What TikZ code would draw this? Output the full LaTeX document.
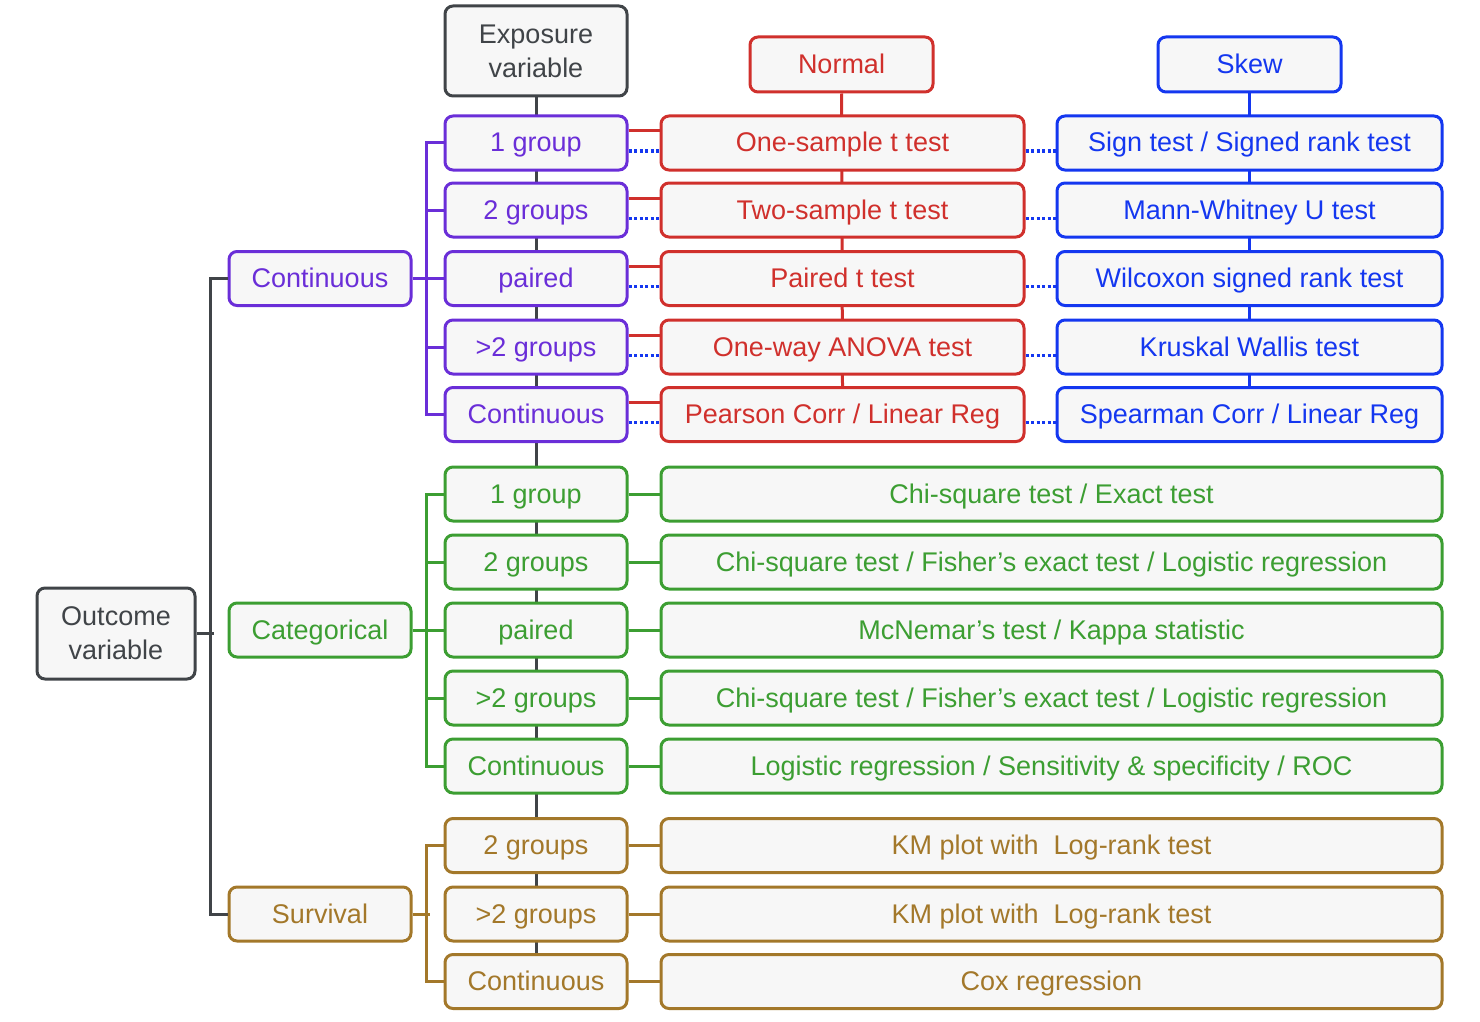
\documentclass[tikz,border=0pt]{standalone}
\usepackage{fontspec}
\setmainfont{Liberation Sans}
\usetikzlibrary{backgrounds,calc}
\definecolor{cgray}{HTML}{404448}
\definecolor{cpurple}{HTML}{6A2ED8}
\definecolor{cred}{HTML}{D0302C}
\definecolor{cblue}{HTML}{1437F0}
\definecolor{cgreen}{HTML}{3C9E32}
\definecolor{cbrown}{HTML}{A3782A}
\definecolor{cfill}{HTML}{F7F7F7}
\tikzset{
  box/.style={draw, line width=3pt, rounded corners=8pt, fill=cfill, inner sep=0pt, align=center, font=\fontsize{27}{34}\selectfont},
  single/.style={text height=21pt, text depth=3pt},
  lvone/.style={box, single, minimum width=182pt, minimum height=54pt},
  expo/.style={box, single, minimum width=182pt, minimum height=54pt},
  redb/.style={box, single, draw=cred, text=cred, minimum width=363pt, minimum height=54pt},
  blueb/.style={box, single, draw=cblue, text=cblue, minimum width=385pt, minimum height=54pt},
  wide/.style={box, single, minimum width=781pt, minimum height=54pt},
  conn/.style={line width=3pt},
  dotc/.style={line width=3pt, cblue, dash pattern=on 3pt off 2.5pt}
}
\begin{document}
\begin{tikzpicture}[x=1pt,y=-1pt]
\useasboundingbox (0,0) rectangle (1480,1022);
% headers
\node[box, draw=cgray, text=cgray, minimum width=182pt, minimum height=90pt] (exp) at (536,51) {Exposure\\variable};
\node[box, single, draw=cred, text=cred, minimum width=183pt, minimum height=55pt] (normal) at (841.5,64.5) {Normal};
\node[box, single, draw=cblue, text=cblue, minimum width=183pt, minimum height=55pt] (skew) at (1249.5,64.5) {Skew};
\node[box, draw=cgray, text=cgray, minimum width=158pt, minimum height=91pt] (outcome) at (116,633.5) {Outcome\\variable};
% level one
\node[lvone, draw=cpurple, text=cpurple] (cont) at (320,278.5) {Continuous};
\node[lvone, draw=cgreen, text=cgreen] (cat) at (320,630) {Categorical};
\node[lvone, draw=cbrown, text=cbrown] (surv) at (320,914) {Survival};
% purple rows
\node[expo, draw=cpurple, text=cpurple] (p1) at (536,143) {1 group};
\node[expo, draw=cpurple, text=cpurple] (p2) at (536,210) {2 groups};
\node[expo, draw=cpurple, text=cpurple] (p3) at (536,278.5) {paired};
\node[expo, draw=cpurple, text=cpurple] (p4) at (536,347) {>2 groups};
\node[expo, draw=cpurple, text=cpurple] (p5) at (536,414.5) {Continuous};
\node[redb] (r1) at (842.5,143) {One-sample t test};
\node[redb] (r2) at (842.5,210) {Two-sample t test};
\node[redb] (r3) at (842.5,278.5) {Paired t test};
\node[redb] (r4) at (842.5,347) {One-way ANOVA test};
\node[redb] (r5) at (842.5,414.5) {Pearson Corr / Linear Reg};
\node[blueb] (b1) at (1249.5,143) {Sign test / Signed rank test};
\node[blueb] (b2) at (1249.5,210) {Mann-Whitney U test};
\node[blueb] (b3) at (1249.5,278.5) {Wilcoxon signed rank test};
\node[blueb] (b4) at (1249.5,347) {Kruskal Wallis test};
\node[blueb] (b5) at (1249.5,414.5) {Spearman Corr / Linear Reg};
% green rows
\node[expo, draw=cgreen, text=cgreen] (g1) at (536,494) {1 group};
\node[expo, draw=cgreen, text=cgreen] (g2) at (536,562) {2 groups};
\node[expo, draw=cgreen, text=cgreen] (g3) at (536,630) {paired};
\node[expo, draw=cgreen, text=cgreen] (g4) at (536,698) {>2 groups};
\node[expo, draw=cgreen, text=cgreen] (g5) at (536,766) {Continuous};
\node[wide, draw=cgreen, text=cgreen] (w1) at (1051.5,494) {Chi-square test / Exact test};
\node[wide, draw=cgreen, text=cgreen] (w2) at (1051.5,562) {Chi-square test / Fisher’s exact test / Logistic regression};
\node[wide, draw=cgreen, text=cgreen] (w3) at (1051.5,630) {McNemar’s test / Kappa statistic};
\node[wide, draw=cgreen, text=cgreen] (w4) at (1051.5,698) {Chi-square test / Fisher’s exact test / Logistic regression};
\node[wide, draw=cgreen, text=cgreen] (w5) at (1051.5,766) {Logistic regression / Sensitivity \& specificity / ROC};
% brown rows
\node[expo, draw=cbrown, text=cbrown] (s1) at (536,845.5) {2 groups};
\node[expo, draw=cbrown, text=cbrown] (s2) at (536,914) {>2 groups};
\node[expo, draw=cbrown, text=cbrown] (s3) at (536,981.5) {Continuous};
\node[wide, draw=cbrown, text=cbrown] (v1) at (1051.5,845.5) {KM plot with\ \ Log-rank test};
\node[wide, draw=cbrown, text=cbrown] (v2) at (1051.5,914) {KM plot with\ \ Log-rank test};
\node[wide, draw=cbrown, text=cbrown] (v3) at (1051.5,981.5) {Cox regression};
% connectors behind
\begin{scope}[on background layer]
\draw[conn, cgray] (exp.south) -- (s3.north);
\draw[conn, cred] (normal.south) -- (r5.north);
\draw[conn, cblue] (skew.south) -- (b5.north);
\end{scope}
% trunk
\draw[conn, cgray] (outcome.east) -- ++(17,0);
\draw[conn, cgray] (cont.west) -- ++(-17,0) |- (surv.west);
% purple bracket
\draw[conn, cpurple] (cont.east) -- ++(17,0);
\draw[conn, cpurple] (p1.west) -- ++(-17,0) |- (p5.west);
\foreach \i in {2,3,4} \draw[conn, cpurple] (p\i.west) -- ++(-17,0);
\foreach \i in {1,...,5} {
  \draw[conn, cred] ($(p\i.east)+(0,-12)$) -- ($(r\i.west)+(0,-12)$);
  \draw[dotc] ($(p\i.east)+(0,8)$) -- ($(r\i.west)+(0,8)$);
  \draw[dotc] ($(r\i.east)+(0,8)$) -- ($(b\i.west)+(0,8)$);
}
% green bracket
\draw[conn, cgreen] (cat.east) -- ++(17,0);
\draw[conn, cgreen] (g1.west) -- ++(-17,0) |- (g5.west);
\foreach \i in {2,3,4} \draw[conn, cgreen] (g\i.west) -- ++(-17,0);
\foreach \i in {1,...,5} \draw[conn, cgreen] (g\i.east) -- (w\i.west);
% brown bracket
\draw[conn, cbrown] (surv.east) -- ++(17,0);
\draw[conn, cbrown] (s1.west) -- ++(-17,0) |- (s3.west);
\foreach \i in {1,2,3} \draw[conn, cbrown] (s\i.east) -- (v\i.west);
\end{tikzpicture}
\end{document}
